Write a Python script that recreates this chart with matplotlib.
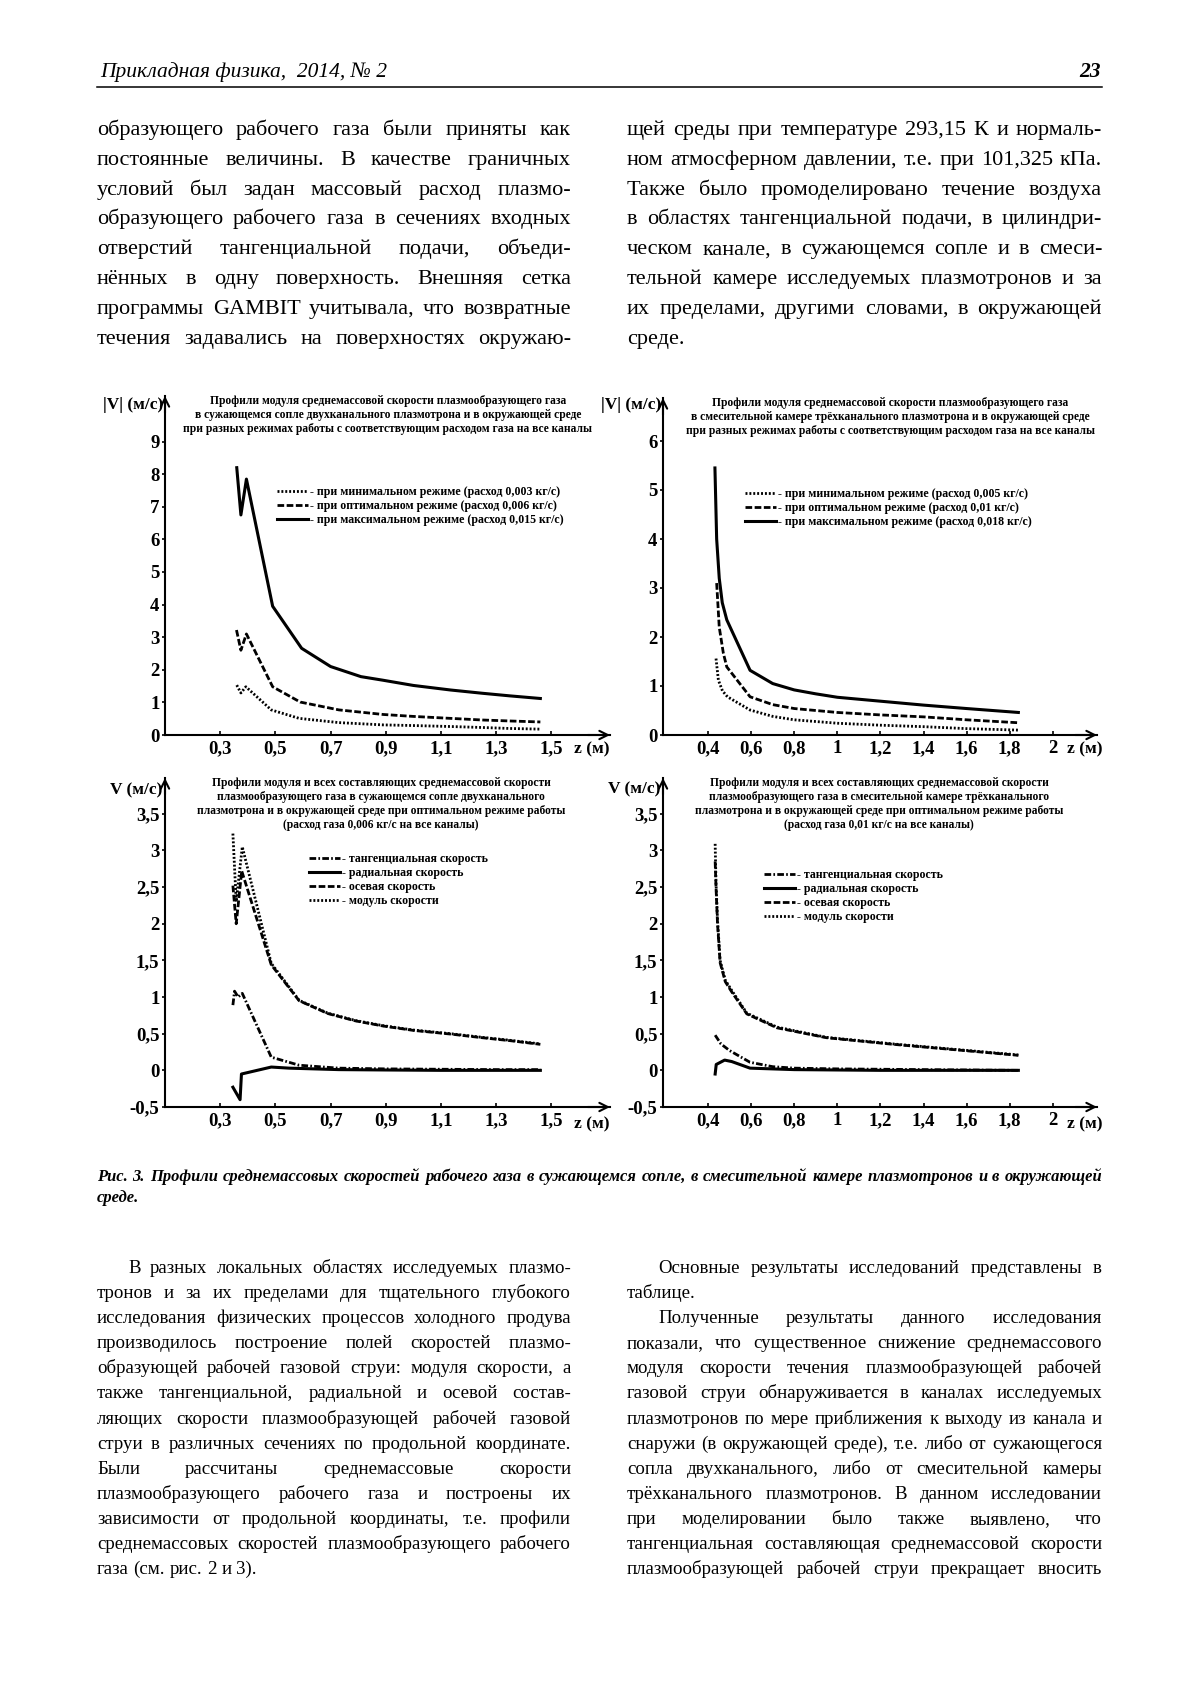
import numpy as np
import matplotlib.pyplot as plt
from matplotlib.lines import Line2D

W, H = 1200, 1698
SERIF = ['Liberation Serif', 'DejaVu Serif']
plt.rcParams['font.family'] = SERIF

# ---------------- chart data ----------------
# top left: |V| in the narrowing nozzle, three regimes
z_tl_min = [0.36, 0.375, 0.393, 0.485, 0.586, 0.73, 0.89, 1.0, 1.135, 1.25, 1.35, 1.46]
v_tl_min = [1.53, 1.29, 1.48, 0.77, 0.51, 0.38, 0.31, 0.29, 0.26, 0.23, 0.20, 0.18]
z_tl_opt = [0.359, 0.375, 0.395, 0.49, 0.59, 0.73, 0.89, 1.0, 1.135, 1.25, 1.35, 1.46]
v_tl_opt = [3.22, 2.6, 3.1, 1.48, 1.01, 0.77, 0.63, 0.57, 0.51, 0.46, 0.43, 0.40]
z_tl_max = [0.36, 0.375, 0.395, 0.49, 0.595, 0.70, 0.81, 0.89, 1.0, 1.135, 1.25, 1.35, 1.46]
v_tl_max = [8.2, 6.75, 7.85, 3.95, 2.66, 2.1, 1.79, 1.68, 1.52, 1.38, 1.28, 1.2, 1.12]

# top right: |V| in the mixing chamber, three regimes
z_tr_min = [0.437, 0.448, 0.467, 0.49, 0.595, 0.70, 0.80, 1.0, 1.2, 1.4, 1.6, 1.84]
v_tr_min = [1.56, 1.12, 0.9, 0.78, 0.51, 0.38, 0.31, 0.24, 0.20, 0.17, 0.13, 0.10]
z_tr_opt = [0.44, 0.452, 0.471, 0.487, 0.595, 0.70, 0.80, 1.0, 1.2, 1.4, 1.6, 1.84]
v_tr_opt = [3.1, 2.2, 1.67, 1.39, 0.78, 0.62, 0.54, 0.46, 0.41, 0.37, 0.31, 0.25]
z_tr_max = [0.432, 0.44, 0.452, 0.466, 0.487, 0.595, 0.70, 0.80, 0.90, 1.0, 1.2, 1.4, 1.6, 1.84]
v_tr_max = [5.45, 4.0, 3.2, 2.7, 2.35, 1.32, 1.05, 0.92, 0.84, 0.77, 0.69, 0.61, 0.54, 0.46]

# bottom left: components, narrowing nozzle
z_bl_tan = [0.346, 0.352, 0.365, 0.38, 0.485, 0.586, 0.73, 0.9, 1.1, 1.3, 1.46]
v_bl_tan = [0.89, 1.08, 1.0, 1.05, 0.18, 0.07, 0.03, 0.02, 0.015, 0.01, 0.01]
z_bl_rad = [0.346, 0.372, 0.377, 0.485, 0.55, 0.73, 0.9, 1.1, 1.3, 1.46]
v_bl_rad = [-0.23, -0.40, -0.05, 0.045, 0.03, 0.01, 0.005, 0.0, 0.0, 0.0]
z_bl_ax = [0.346, 0.358, 0.378, 0.485, 0.586, 0.69, 0.79, 0.89, 1.0, 1.135, 1.25, 1.35, 1.46]
v_bl_ax = [2.52, 2.0, 2.72, 1.44, 0.95, 0.775, 0.675, 0.605, 0.545, 0.495, 0.445, 0.405, 0.355]
z_bl_mod = [0.346, 0.358, 0.38, 0.485, 0.586, 0.69, 0.79, 0.89, 1.0, 1.135, 1.25, 1.35, 1.46]
v_bl_mod = [3.23, 2.3, 3.05, 1.46, 0.955, 0.78, 0.68, 0.61, 0.55, 0.50, 0.45, 0.41, 0.36]

# bottom right: components, mixing chamber
z_br_tan = [0.433, 0.46, 0.5, 0.595, 0.7, 0.8, 1.0, 1.4, 1.84]
v_br_tan = [0.48, 0.36, 0.27, 0.11, 0.05, 0.03, 0.02, 0.01, 0.0]
z_br_rad = [0.433, 0.438, 0.477, 0.51, 0.595, 0.8, 1.2, 1.84]
v_br_rad = [-0.05, 0.08, 0.14, 0.12, 0.03, 0.01, 0.0, 0.0]
z_br_ax = [0.433, 0.437, 0.444, 0.456, 0.48, 0.51, 0.58, 0.72, 0.95, 1.26, 1.57, 1.84]
v_br_ax = [2.85, 2.5, 2.0, 1.47, 1.21, 1.07, 0.77, 0.58, 0.445, 0.355, 0.275, 0.205]
z_br_mod = [0.433, 0.437, 0.444, 0.456, 0.48, 0.51, 0.58, 0.72, 0.95, 1.26, 1.57, 1.84]
v_br_mod = [3.09, 2.55, 2.05, 1.5, 1.23, 1.09, 0.78, 0.59, 0.45, 0.36, 0.28, 0.21]

x_ticks_a = [0.3, 0.5, 0.7, 0.9, 1.1, 1.3, 1.5]
x_labels_a = ['0,3', '0,5', '0,7', '0,9', '1,1', '1,3', '1,5']
x_ticks_b = [0.4, 0.6, 0.8, 1.0, 1.2, 1.4, 1.6, 1.8, 2.0]
x_labels_b = ['0,4', '0,6', '0,8', '1', '1,2', '1,4', '1,6', '1,8', '2']
y_ticks_tl = [0, 1, 2, 3, 4, 5, 6, 7, 8, 9]
y_ticks_tr = [0, 1, 2, 3, 4, 5, 6]
y_ticks_b = [-0.5, 0, 0.5, 1, 1.5, 2, 2.5, 3, 3.5]
y_labels_b = ['-0,5', '0', '0,5', '1', '1,5', '2', '2,5', '3', '3,5']

title_tl = ["Профили модуля среднемассовой скорости плазмообразующего газа",
            "в сужающемся сопле двухканального плазмотрона и в окружающей среде",
            "при разных режимах работы с соответствующим расходом газа на все каналы"]
title_tr = ["Профили модуля среднемассовой скорости плазмообразующего газа",
            "в смесительной камере трёхканального плазмотрона и в окружающей среде",
            "при разных режимах работы с соответствующим расходом газа на все каналы"]
title_bl = ["Профили модуля и всех составляющих среднемассовой скорости",
            "плазмообразующего газа в сужающемся сопле двухканального",
            "плазмотрона и в окружающей среде при оптимальном режиме работы",
            "(расход газа 0,006 кг/с на все каналы)"]
title_br = ["Профили модуля и всех составляющих среднемассовой скорости",
            "плазмообразующего газа в смесительной камере трёхканального",
            "плазмотрона и в окружающей среде при оптимальном режиме работы",
            "(расход газа 0,01 кг/с на все каналы)"]
legend_tl = ["- при минимальном режиме (расход 0,003 кг/с)",
             "- при оптимальном режиме (расход 0,006 кг/с)",
             "- при максимальном режиме (расход 0,015 кг/с)"]
legend_tr = ["- при минимальном режиме (расход 0,005 кг/с)",
             "- при оптимальном режиме (расход 0,01 кг/с)",
             "- при максимальном режиме (расход 0,018 кг/с)"]
legend_b = ["- тангенциальная скорость", "- радиальная скорость",
            "- осевая скорость", "- модуль скорости"]

# ---------------- page text ----------------
top_left = ["образующего рабочего газа были приняты как",
            "постоянные величины. В качестве граничных",
            "условий был задан массовый расход плазмо-",
            "образующего рабочего газа в сечениях входных",
            "отверстий тангенциальной подачи, объеди-",
            "нённых в одну поверхность. Внешняя сетка",
            "программы GAMBIT учитывала, что возвратные",
            "течения задавались на поверхностях окружаю-"]
top_right = ["щей среды при температуре 293,15 К и нормаль-",
             "ном атмосферном давлении, т.е. при 101,325 кПа.",
             "Также было промоделировано течение воздуха",
             "в областях тангенциальной подачи, в цилиндри-",
             "ческом канале, в сужающемся сопле и в смеси-",
             "тельной камере исследуемых плазмотронов и за",
             "их пределами, другими словами, в окружающей",
             "среде."]
caption = ["Рис. 3. Профили среднемассовых скоростей рабочего газа в сужающемся сопле, "
           "в смесительной камере плазмотронов и в окружающей",
           "среде."]
bottom_left = ["В разных локальных областях исследуемых плазмо-",
               "тронов и за их пределами для тщательного глубокого",
               "исследования физических процессов холодного продува",
               "производилось построение полей скоростей плазмо-",
               "образующей рабочей газовой струи: модуля скорости, а",
               "также тангенциальной, радиальной и осевой состав-",
               "ляющих скорости плазмообразующей рабочей газовой",
               "струи в различных сечениях по продольной координате.",
               "Были рассчитаны среднемассовые скорости",
               "плазмообразующего рабочего газа и построены их",
               "зависимости от продольной координаты, т.е. профили",
               "среднемассовых скоростей плазмообразующего рабочего",
               "газа (см. рис. 2 и 3)."]
bottom_right = ["Основные результаты исследований представлены в",
                "таблице.",
                "Полученные результаты данного исследования",
                "показали, что существенное снижение среднемассового",
                "модуля скорости течения плазмообразующей рабочей",
                "газовой струи обнаруживается в каналах исследуемых",
                "плазмотронов по мере приближения к выходу из канала и",
                "снаружи (в окружающей среде), т.е. либо от сужающегося",
                "сопла двухканального, либо от смесительной камеры",
                "трёхканального плазмотронов. В данном исследовании",
                "при моделировании было также выявлено, что",
                "тангенциальная составляющая среднемассовой скорости",
                "плазмообразующей рабочей струи прекращает вносить"]

fig = plt.figure(figsize=(W / 100, H / 100), dpi=100)
renderer = fig.canvas.get_renderer()


def fx(px):
    return px / W


def fy(py):
    return 1 - py / H


def measure(s, **kw):
    t = fig.text(0, 0, s, **kw)
    w = t.get_window_extent(renderer=renderer).width
    t.remove()
    return w


def fit(columns, guess, **kw):
    # font size so that the tightest justified line just fits its column
    r = []
    for lines, x0, x1, indents, loose in columns:
        for i, s in enumerate(lines):
            if i in loose:
                continue
            r.append((x1 - x0 - indents.get(i, 0)) / measure(s, size=guess, **kw))
    return guess * min(r) * 0.99


def block(lines, x0, x1, y0, step, size, indents, loose, **kw):
    space = measure('n n', size=size, **kw) - measure('nn', size=size, **kw)
    for i, s in enumerate(lines):
        words = s.split()
        widths = [measure(w, size=size, **kw) for w in words]
        ind = indents.get(i, 0)
        gap = space
        if i not in loose and len(words) > 1:
            gap = (x1 - x0 - ind - sum(widths)) / (len(words) - 1)
        x = x0 + ind
        for w, wd in zip(words, widths):
            fig.text(fx(x), fy(y0 + i * step), w, size=size, va='baseline', **kw)
            x += wd + gap


# header
fig.text(fx(100), fy(77), "Прикладная физика,  2014, № 2", size=15.5, style='italic',
         va='baseline')
fig.text(fx(1101), fy(77), "23", size=15.5, style='italic', weight='bold', ha='right',
         va='baseline')
fig.add_artist(Line2D([fx(97), fx(1102)], [fy(87), fy(87)], lw=1.1, color='k'))

# top columns
cols = [(top_left, 97, 571, {}, set()), (top_right, 627, 1102, {}, {7})]
fs_top = fit(cols, 16)
for lines, x0, x1, ind, loose in cols:
    block(lines, x0, x1, 135, 29.8, fs_top, ind, loose)

# caption
fs_cap = fit([(caption, 97, 1102, {}, {1})], 11, style='italic', weight='bold')
block(caption, 97, 1102, 1181, 20.5, fs_cap, {}, {1}, style='italic', weight='bold')

# bottom columns
cols = [(bottom_left, 97, 571, {0: 31}, {12}),
        (bottom_right, 627, 1102, {0: 31, 2: 31}, {1})]
fs_bot = fit(cols, 14)
for lines, x0, x1, ind, loose in cols:
    block(lines, x0, x1, 1273, 25.1, fs_bot, ind, loose)

# ---------------- charts ----------------
DOT = (0, (0.7, 0.7))
DASH = (0, (2.4, 0.9))
DASHDOT = (0, (2.4, 0.8, 0.6, 0.8))
LEG = {'family': SERIF, 'weight': 'bold', 'size': 8.6}
TICK_FS = 13.5


def panel(l, r, t, b, x0, sx, y0, sy, xt, xl, yt, yl):
    ax = fig.add_axes([fx(l), fy(b), (r - l) / W, (b - t) / H])
    ax.set_xlim(x0, x0 + (r - l) / sx)
    ax.set_ylim(y0, y0 + (b - t) / sy)
    ax.patch.set_alpha(0)
    ax.spines[['top', 'right']].set_visible(False)
    ax.spines[['left', 'bottom']].set_linewidth(1.5)
    ax.set_xticks(xt)
    ax.set_xticklabels(xl, fontsize=TICK_FS, fontweight='bold')
    ax.set_yticks(yt)
    ax.set_yticklabels(yl, fontsize=TICK_FS, fontweight='bold')
    ax.tick_params(axis='x', direction='in', length=3, width=1.2, pad=3.5)
    ax.tick_params(axis='y', direction='out', length=2.5, width=1.2, pad=1.5)
    kw = dict(arrowstyle='->', lw=1.5, color='k', mutation_scale=15, shrinkA=0, shrinkB=0)
    ax.annotate('', xy=(1, 0), xytext=(0.95, 0), xycoords='axes fraction', arrowprops=kw)
    ax.annotate('', xy=(0, 1), xytext=(0, 0.95), xycoords='axes fraction', arrowprops=kw)
    return ax


def titles(lines, cx, y0):
    for i, s in enumerate(lines):
        fig.text(fx(cx), fy(y0 + i * 14), s, ha='center', va='center', fontsize=8.3,
                 fontweight='bold')


def legend(ax, handles, labels, x, y):
    ax.legend(handles, labels, loc='upper left', bbox_to_anchor=(fx(x), fy(y)),
              bbox_transform=fig.transFigure, frameon=False, prop=LEG,
              handlelength=2.6, handletextpad=0.2, labelspacing=0.18,
              borderpad=0, borderaxespad=0)


def axis_labels(ylab, yx, yy, zx, zy):
    fig.text(fx(yx), fy(yy), ylab, ha='right', va='center', fontsize=12.5,
             fontweight='bold')
    fig.text(fx(zx), fy(zy), "z (м)", ha='center', va='center', fontsize=12.5,
             fontweight='bold')


# top left
ax = panel(165, 610, 396, 735, 0.1, 276, 0, 32.6, x_ticks_a, x_labels_a,
           y_ticks_tl, [str(v) for v in y_ticks_tl])
h1, = ax.plot(z_tl_min, v_tl_min, color='k', lw=2, ls=DOT)
h2, = ax.plot(z_tl_opt, v_tl_opt, color='k', lw=2, ls=DASH)
h3, = ax.plot(z_tl_max, v_tl_max, color='k', lw=2.2)
legend(ax, [h1, h2, h3], legend_tl, 277, 486)
titles(title_tl, 388, 401)
axis_labels("|V| (м/с)", 163, 405, 592, 749)

# top right
ax = panel(663, 1097, 398, 735, 0.191, 215.5, 0, 49, x_ticks_b, x_labels_b,
           y_ticks_tr, [str(v) for v in y_ticks_tr])
h1, = ax.plot(z_tr_min, v_tr_min, color='k', lw=2, ls=DOT)
h2, = ax.plot(z_tr_opt, v_tr_opt, color='k', lw=2, ls=DASH)
h3, = ax.plot(z_tr_max, v_tr_max, color='k', lw=2.2)
legend(ax, [h1, h2, h3], legend_tr, 745, 488)
titles(title_tr, 890, 403)
axis_labels("|V| (м/с)", 661, 405, 1085, 749)

# bottom left
ax = panel(165, 610, 778, 1107, 0.1, 276, -0.5, 73.3, x_ticks_a, x_labels_a,
           y_ticks_b, y_labels_b)
h1, = ax.plot(z_bl_tan, v_bl_tan, color='k', lw=2, ls=DASHDOT)
h2, = ax.plot(z_bl_rad, v_bl_rad, color='k', lw=2.2)
h3, = ax.plot(z_bl_ax, v_bl_ax, color='k', lw=2, ls=DASH)
h4, = ax.plot(z_bl_mod, v_bl_mod, color='k', lw=2, ls=DOT)
legend(ax, [h1, h2, h3, h4], legend_b, 309, 853)
titles(title_bl, 381, 783)
axis_labels("V (м/с)", 162, 790, 592, 1124)

# bottom right
ax = panel(663, 1097, 778, 1107, 0.191, 215.5, -0.5, 73.3, x_ticks_b, x_labels_b,
           y_ticks_b, y_labels_b)
h1, = ax.plot(z_br_tan, v_br_tan, color='k', lw=2, ls=DASHDOT)
h2, = ax.plot(z_br_rad, v_br_rad, color='k', lw=2.2)
h3, = ax.plot(z_br_ax, v_br_ax, color='k', lw=2, ls=DASH)
h4, = ax.plot(z_br_mod, v_br_mod, color='k', lw=2, ls=DOT)
legend(ax, [h1, h2, h3, h4], legend_b, 764, 869)
titles(title_br, 879, 783)
axis_labels("V (м/с)", 660, 789, 1085, 1124)

fig.savefig('out.png', dpi=100, facecolor='white')
